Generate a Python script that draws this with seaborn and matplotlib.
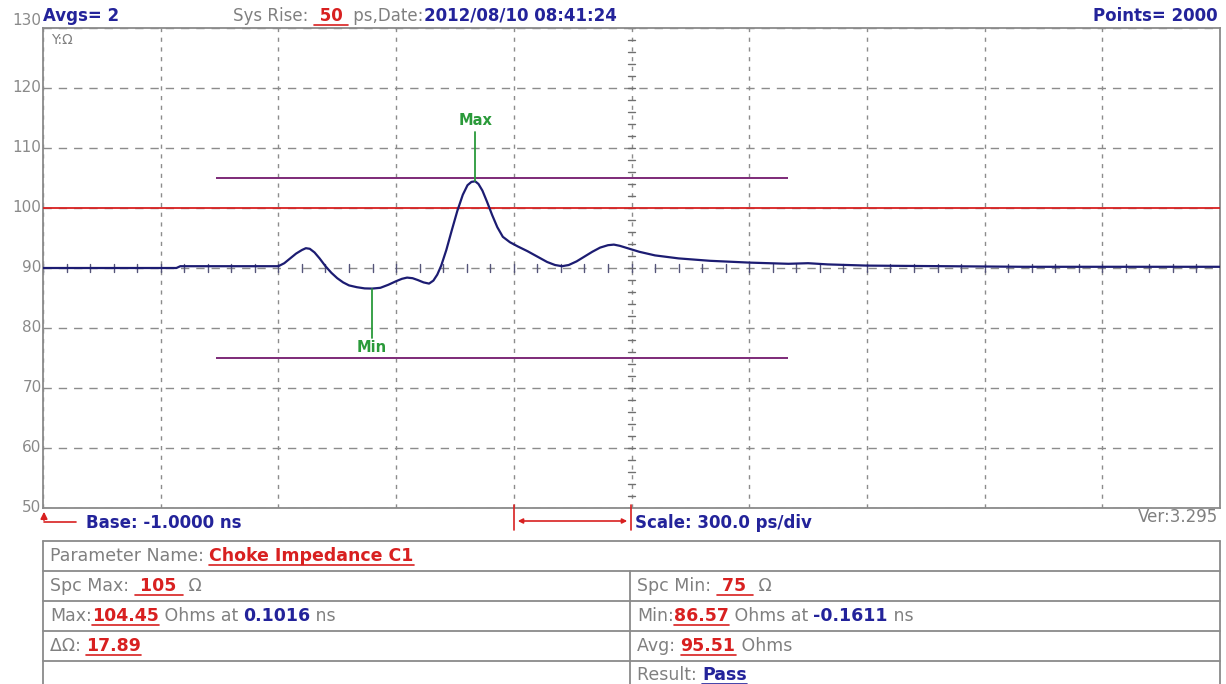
import matplotlib
matplotlib.use('Agg')
import matplotlib.pyplot as plt
import numpy as np
import pandas as pd
import seaborn as sns

# trace (time in ns, impedance in ohms)
time_ns = [-1.000, -0.660, -0.650, -0.400, -0.385, -0.370, -0.355, -0.340, -0.330, -0.320,
           -0.308, -0.295, -0.280, -0.265, -0.250, -0.235, -0.220, -0.200, -0.180, -0.161,
           -0.140, -0.120, -0.100, -0.085, -0.072, -0.058, -0.045, -0.030, -0.016, -0.005,
           0.005, 0.015, 0.028, 0.042, 0.056, 0.070, 0.082, 0.092, 0.1016, 0.110,
           0.120, 0.132, 0.145, 0.158, 0.172, 0.190, 0.210, 0.235, 0.260, 0.285,
           0.305, 0.323, 0.340, 0.360, 0.380, 0.400, 0.420, 0.440, 0.455, 0.470,
           0.490, 0.520, 0.560, 0.620, 0.700, 0.800, 0.900, 0.950, 1.000, 1.100,
           1.300, 1.500, 1.700, 2.000]
impedance = [90.0, 90.0, 90.3, 90.3, 90.8, 91.6, 92.4, 93.0, 93.3, 93.2,
             92.6, 91.6, 90.3, 89.2, 88.3, 87.6, 87.1, 86.8, 86.6, 86.57,
             86.7, 87.2, 87.8, 88.2, 88.4, 88.3, 88.0, 87.6, 87.4, 87.9,
             88.9, 90.4, 93.0, 96.3, 99.5, 102.2, 103.8, 104.35, 104.45, 104.0,
             102.9, 101.0, 98.8, 96.8, 95.2, 94.3, 93.6, 92.8, 91.9, 91.0,
             90.5, 90.3, 90.5, 91.1, 91.9, 92.7, 93.4, 93.8, 93.9, 93.7,
             93.3, 92.7, 92.1, 91.6, 91.2, 90.9, 90.7, 90.8, 90.6, 90.4,
             90.3, 90.2, 90.2, 90.2]

y_ticks = [50, 60, 70, 80, 90, 100, 110, 120, 130]
base_ns = -1.0
scale_ns = 0.3
n_div = 10
ref_line = 100
spc_max = 105
spc_min = 75
spc_span = [-0.56, 0.90]
max_point = (0.1016, 104.45)
min_point = (-0.1611, 86.57)

BLUE = '#23239a'
RED = '#d82020'
GRAY = '#808080'
GREEN = '#2a9a3a'
PURPLE = '#7d2a78'
TRACE = '#1c1c72'
FS = 12
FS_TAB = 12.5

sns.set_style('white')
plt.rcParams['font.family'] = ['DejaVu Sans']

W, H = 1226, 684
fig = plt.figure(figsize=(W / 100, H / 100), dpi=100)
ax = fig.add_axes([43 / W, 1 - 508 / H, 1177 / W, 480 / H])

x_ticks = [base_ns + i * scale_ns for i in range(n_div + 1)]
ax.set_xlim(x_ticks[0], x_ticks[-1])
ax.set_ylim(y_ticks[0], y_ticks[-1])
ax.set_xticks(x_ticks)
ax.set_yticks(y_ticks)
ax.set_xticklabels([])
ax.set_yticklabels([str(v) for v in y_ticks], color='#8a8a8a', fontsize=11)
ax.tick_params(axis='both', length=0, pad=1)
for lbl in ax.get_yticklabels():
    lbl.set_verticalalignment('center')
ax.get_yticklabels()[-1].set_verticalalignment('bottom')
ax.grid(True, axis='x', color='#8c8c8c', lw=1, ls=(0, (3, 4)))
ax.grid(True, axis='y', color='#8c8c8c', lw=1, ls=(0, (6, 5)))
for s in ax.spines.values():
    s.set_color('#8a8a8a')
    s.set_linewidth(1.3)

# minor ticks along the centre crosshair
cx = base_ns + 5 * scale_ns
cy = 90
for t in np.arange(base_ns, x_ticks[-1] + 1e-9, scale_ns / 5):
    ax.plot([t, t], [cy - 0.7, cy + 0.7], color='#55557a', lw=1, zorder=2)
for v in np.arange(y_ticks[0], y_ticks[-1] + 1e-9, 2):
    ax.plot([cx - 0.008, cx + 0.008], [v, v], color='#707070', lw=1, zorder=2)

# limits
ax.axhline(ref_line, color=RED, lw=1.3, zorder=3)
ax.hlines([spc_max, spc_min], spc_span[0], spc_span[1], color=PURPLE, lw=1.4, zorder=3)

df = pd.DataFrame({'t': time_ns, 'z': impedance})
sns.lineplot(data=df, x='t', y='z', ax=ax, color=TRACE, lw=1.6, zorder=4, sort=False)
ax.set_xlabel('')
ax.set_ylabel('')

# max / min markers
ax.plot([max_point[0], max_point[0]], [max_point[1], 112.7], color=GREEN, lw=1.3, zorder=5)
ax.text(max_point[0], 114.6, 'Max', color=GREEN, fontsize=10.5, fontweight='bold',
        ha='center', va='center')
ax.plot([min_point[0], min_point[0]], [min_point[1], 78.3], color=GREEN, lw=1.3, zorder=5)
ax.text(min_point[0], 76.7, 'Min', color=GREEN, fontsize=10.5, fontweight='bold',
        ha='center', va='center')
ax.text(0.007, 0.975, 'Y:\u03a9', transform=ax.transAxes, color=GRAY, fontsize=10,
        ha='left', va='center')

# overlay in pixel coords for header, footer and table
ov = fig.add_axes([0, 0, 1, 1])
ov.set_xlim(0, W)
ov.set_ylim(H, 0)
ov.axis('off')
ov.patch.set_visible(False)
renderer = fig.canvas.get_renderer()


def seg_text(x, y, parts, size=FS, align='left'):
    # parts: (text, color, bold, underline)
    items = []
    for txt, color, bold, ul in parts:
        t = ov.text(x, y, txt, color=color, fontsize=size,
                    fontweight='bold' if bold else 'normal', ha='left', va='center')
        w = t.get_window_extent(renderer).width
        items.append((t, w, color, ul))
        x += w
    if align == 'right':
        total = sum(i[1] for i in items)
        for t, w, c, ul in items:
            t.set_x(t.get_position()[0] - total)
    for t, w, color, ul in items:
        if ul:
            x0 = t.get_position()[0]
            ov.plot([x0, x0 + w], [y + 8.5, y + 8.5], color=color, lw=1.2)


seg_text(43, 16, [('Avgs= 2', BLUE, True, False)])
seg_text(233, 16, [('Sys Rise: ', GRAY, False, False), (' 50 ', RED, True, True),
                   (' ps,Date:', GRAY, False, False), ('2012/08/10 08:41:24', BLUE, True, False)])
seg_text(1218, 16, [('Points= 2000', BLUE, True, False)], align='right')

# base marker
ov.annotate('', xy=(44, 509), xytext=(44, 523),
            arrowprops=dict(arrowstyle='-|>', color=RED, lw=1.2, mutation_scale=10))
ov.plot([44, 76], [522, 522], color=RED, lw=1.2)
seg_text(86, 523, [('Base: -1.0000 ns', BLUE, True, False)])

# scale bracket
ov.plot([514, 514], [505, 530], color=RED, lw=1.2)
ov.plot([631, 631], [505, 530], color=RED, lw=1.2)
ov.annotate('', xy=(515, 521), xytext=(630, 521),
            arrowprops=dict(arrowstyle='<|-|>', color=RED, lw=1.2, mutation_scale=7))
seg_text(635, 523, [('Scale: 300.0 ps/div', BLUE, True, False)])
seg_text(1218, 517, [('Ver:3.295', GRAY, False, False)], align='right')

# table
tl, tr, tm = 43, 1220, 630
rows = [541, 571, 601, 631, 661]
for r in rows:
    ov.plot([tl, tr], [r, r], color='#8a8a8a', lw=1.3)
ov.plot([tl, tl], [rows[0], H], color='#8a8a8a', lw=1.3)
ov.plot([tr, tr], [rows[0], H], color='#8a8a8a', lw=1.3)
ov.plot([tm, tm], [rows[1], H], color='#8a8a8a', lw=1.3)

cy0 = [556, 586, 616, 646, 675]
seg_text(50, cy0[0], [('Parameter Name: ', GRAY, False, False),
                      ('Choke Impedance C1', RED, True, True)], size=FS_TAB)
seg_text(50, cy0[1], [('Spc Max: ', GRAY, False, False), (' 105 ', RED, True, True),
                      (' \u03a9', GRAY, False, False)], size=FS_TAB)
seg_text(50, cy0[2], [('Max:', GRAY, False, False), ('104.45', RED, True, True),
                      (' Ohms at ', GRAY, False, False), ('0.1016', BLUE, True, False),
                      (' ns', GRAY, False, False)], size=FS_TAB)
seg_text(50, cy0[3], [('\u0394\u03a9: ', GRAY, False, False), ('17.89', RED, True, True)],
         size=FS_TAB)
seg_text(637, cy0[1], [('Spc Min: ', GRAY, False, False), (' 75 ', RED, True, True),
                       (' \u03a9', GRAY, False, False)], size=FS_TAB)
seg_text(637, cy0[2], [('Min:', GRAY, False, False), ('86.57', RED, True, True),
                       (' Ohms at ', GRAY, False, False), ('-0.1611', BLUE, True, False),
                       (' ns', GRAY, False, False)], size=FS_TAB)
seg_text(637, cy0[3], [('Avg: ', GRAY, False, False), ('95.51', RED, True, True),
                       (' Ohms', GRAY, False, False)], size=FS_TAB)
seg_text(637, cy0[4], [('Result: ', GRAY, False, False), ('Pass', BLUE, True, True)],
         size=FS_TAB)

fig.savefig('out.png', dpi=100)
